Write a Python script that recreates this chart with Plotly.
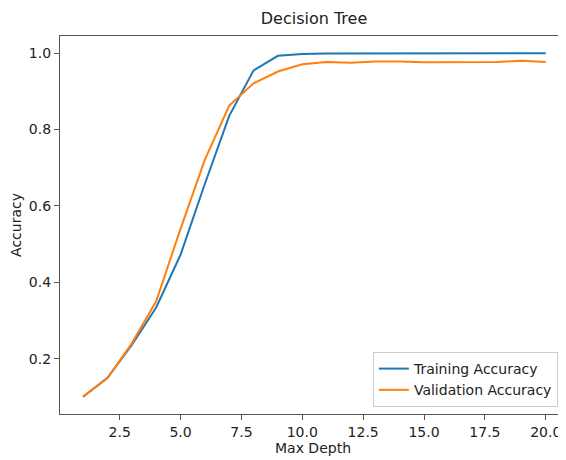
import plotly.graph_objects as go

max_depth = list(range(1, 21))
train_acc = [0.100, 0.150, 0.236, 0.334, 0.472, 0.658, 0.836, 0.955, 0.993, 0.998,
             0.999, 0.999, 0.9995, 1.000, 1.000, 1.000, 1.000, 1.000, 1.000, 1.000]
val_acc = [0.101, 0.149, 0.240, 0.350, 0.540, 0.721, 0.863, 0.921, 0.952, 0.971,
           0.977, 0.975, 0.978, 0.978, 0.976, 0.976, 0.976, 0.977, 0.980, 0.977]

x_ticks = [2.5, 5.0, 7.5, 10.0, 12.5, 15.0, 17.5, 20.0]
y_ticks = [0.2, 0.4, 0.6, 0.8, 1.0]

fig = go.Figure()
fig.add_trace(go.Scatter(x=max_depth, y=train_acc, mode="lines", name="Training Accuracy",
                         line=dict(color="#1f77b4", width=2)))
fig.add_trace(go.Scatter(x=max_depth, y=val_acc, mode="lines", name="Validation Accuracy",
                         line=dict(color="#ff7f0e", width=2)))

font = "DejaVu Sans, sans-serif"
# page body has an 8px default margin, so the figure is sized to fit the window
W, H = 558, 452
fig.update_layout(
    width=W, height=H,
    margin=dict(l=52, r=0, t=28, b=H - 406),
    paper_bgcolor="white", plot_bgcolor="white",
    font=dict(family=font, size=14, color="#222"),
    title=dict(text="Decision Tree", x=306 / W, xanchor="center",
               y=1 - 10 / H, yanchor="middle", font=dict(size=16, color="#222")),
    showlegend=True,
    legend=dict(x=0.984, y=0.0185, xanchor="right", yanchor="bottom",
                bgcolor="rgba(255,255,255,0.8)", bordercolor="#cccccc", borderwidth=1,
                font=dict(size=14, color="#222"), tracegroupgap=0, itemwidth=30),
)
fig.update_xaxes(range=[0.05, 20.83], tickvals=x_ticks, ticktext=[f"{v:.1f}" for v in x_ticks],
                 showgrid=False, zeroline=False, showline=True, linecolor="#555", linewidth=1.2,
                 mirror=True, ticks="outside", ticklen=5, tickcolor="#555",
                 title=dict(text="Max Depth", standoff=3, font=dict(size=14)),
                 tickfont=dict(size=14))
fig.update_yaxes(range=[0.055, 1.045], tickvals=y_ticks, ticktext=[f"{v:.1f}" for v in y_ticks],
                 showgrid=False, zeroline=False, showline=True, linecolor="#555", linewidth=1.2,
                 ticks="outside", ticklen=5, tickcolor="#555",
                 title=dict(text="Accuracy", standoff=6, font=dict(size=14)),
                 tickfont=dict(size=14))

fig.write_html("out.html")
